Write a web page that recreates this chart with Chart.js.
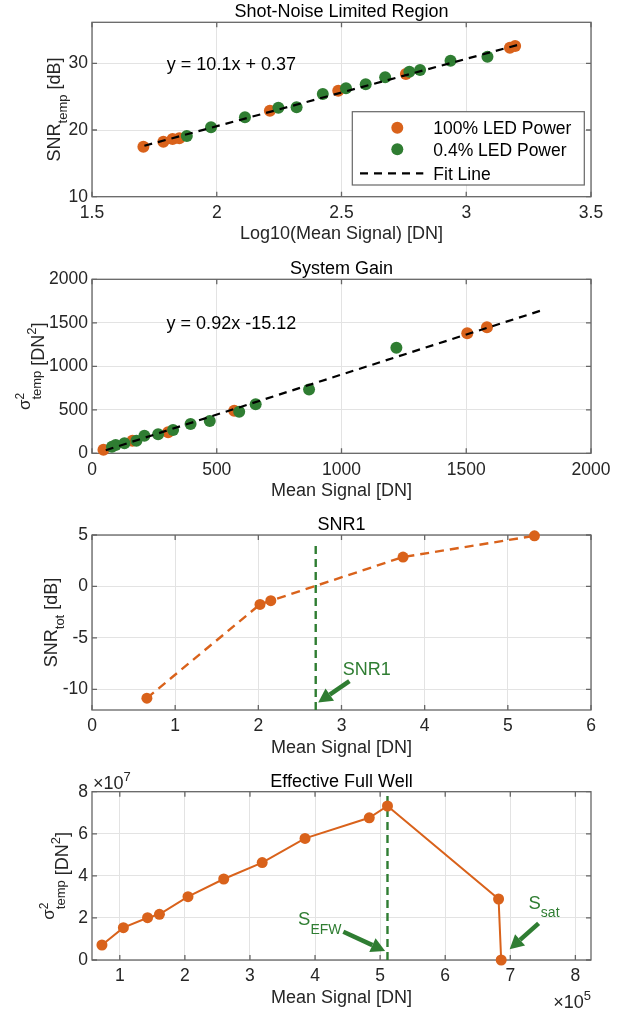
<!DOCTYPE html>
<html>
<head>
<meta charset="utf-8">
<script src="https://cdn.jsdelivr.net/npm/chart.js@4.4.0/dist/chart.umd.min.js"></script>
<style>
  body { margin: 0; background: #fff; width: 620px; height: 1012px; position: relative; overflow: hidden; }
  canvas { position: absolute; left: 0; }
</style>
</head>
<body>
<canvas id="c1" width="620" height="250" style="top:0px"></canvas>
<canvas id="c2" width="620" height="255" style="top:250px"></canvas>
<canvas id="c3" width="620" height="260" style="top:505px"></canvas>
<canvas id="c4" width="620" height="257" style="top:755px"></canvas>
<script>
// --- Shot-Noise Limited Region ---
var snrLogOrange = [1.706, 1.786, 1.823, 1.85, 2.213, 2.487, 2.758, 3.175, 3.196];
var snrOrange = [17.5, 18.25, 18.65, 18.75, 22.9, 25.9, 28.4, 32.35, 32.6];
var snrLogGreen = [1.88, 1.977, 2.113, 2.247, 2.32, 2.425, 2.518, 2.597, 2.675, 2.772, 2.815, 2.937, 3.085];
var snrGreen = [19.1, 20.4, 21.9, 23.35, 23.4, 25.4, 26.25, 26.85, 27.9, 28.75, 29.0, 30.4, 31.0];
var snrFitX = [1.71, 3.21];
var snrFitY = [17.64, 32.79];
var ticks1X = [1.5, 2, 2.5, 3, 3.5];
var ticks1Y = [10, 20, 30];

// --- System Gain ---
var gainSigOrange = [46, 162, 305, 570, 1504, 1583];
var gainVarOrange = [40, 145, 241, 490, 1379, 1448];
var gainSigGreen = [80, 95, 130, 178, 210, 265, 325, 395, 472, 590, 656, 870, 1220];
var gainVarGreen = [76, 95, 115, 145, 202, 218, 268, 337, 371, 478, 563, 732, 1214];
var gainFitX = [55, 1800];
var gainFitY = [35.5, 1641];
var ticks2X = [0, 500, 1000, 1500, 2000];
var ticks2Y = [0, 500, 1000, 1500, 2000];

// --- SNR1 ---
var snr1Sig = [0.66, 2.02, 2.15, 3.74, 5.32];
var snr1Tot = [-10.85, -1.74, -1.38, 2.86, 4.92];
var snr1LineX = [2.69, 2.69];
var snr1LineY = [-12, 4.2];
var ticks3X = [0, 1, 2, 3, 4, 5, 6];
var ticks3Y = [-10, -5, 0, 5];

// --- Effective Full Well ---
var efwSig = [72600, 105500, 142700, 160900, 204800, 259700, 318800, 384600, 483300, 511300, 682000, 686000];
var efwVar = [7.13e6, 1.537e7, 2.01e7, 2.17e7, 3.01e7, 3.85e7, 4.63e7, 5.78e7, 6.76e7, 7.32e7, 2.9e7, 0];
var efwLineX = [511300, 511300];
var efwLineY = [0, 8e7];
var ticks4X = [1e5, 2e5, 3e5, 4e5, 5e5, 6e5, 7e5, 8e5];
var ticks4Y = [0, 2e7, 4e7, 6e7, 8e7];

var FONT = '"Liberation Sans", Arial, sans-serif';
var ORANGE = '#D9621B';
var GREEN = '#2F7D32';
var TXT = '#262626';

function pts(xs, ys) {
  return xs.map(function (x, i) { return {x: x, y: ys[i]}; });
}

// text made of runs: [text, size, rise, stackOnPrevious]
function rich(ctx, segs, x, y, rot, align) {
  ctx.save();
  ctx.translate(x, y);
  if (rot) ctx.rotate(-Math.PI / 2);
  ctx.textBaseline = 'alphabetic';
  ctx.textAlign = 'left';
  var pos = 0, start = 0, lastW = 0, items = [];
  segs.forEach(function (g) {
    ctx.font = g[1] + 'px ' + FONT;
    var w = ctx.measureText(g[0]).width;
    if (g[3]) {
      items.push([g[0], g[1], g[2], start]);
      lastW = Math.max(lastW, w);
      pos = start + lastW;
    } else {
      items.push([g[0], g[1], g[2], pos]);
      start = pos; lastW = w; pos += w;
    }
  });
  var off = align == 'left' ? 0 : (align == 'right' ? -pos : -pos / 2);
  items.forEach(function (it) {
    ctx.font = it[1] + 'px ' + FONT;
    ctx.fillText(it[0], off + it[3], -it[2]);
  });
  ctx.restore();
}

function arrow(ctx, x1, y1, x2, y2) {
  var ang = Math.atan2(y2 - y1, x2 - x1), head = 14, hw = 7.5;
  var bx = x2 - head * Math.cos(ang), by = y2 - head * Math.sin(ang);
  ctx.save();
  ctx.strokeStyle = GREEN;
  ctx.fillStyle = GREEN;
  ctx.lineWidth = 4.5;
  ctx.beginPath(); ctx.moveTo(x1, y1); ctx.lineTo(bx, by); ctx.stroke();
  ctx.beginPath();
  ctx.moveTo(x2, y2);
  ctx.lineTo(bx + hw * Math.sin(ang), by - hw * Math.cos(ang));
  ctx.lineTo(bx - hw * Math.sin(ang), by + hw * Math.cos(ang));
  ctx.closePath();
  ctx.fill();
  ctx.restore();
}

var matlabFrame = {
  id: 'matlabFrame',
  beforeDatasetsDraw: function (chart) {
    var a = chart.chartArea, ctx = chart.ctx;
    var sx = chart.scales.x, sy = chart.scales.y;
    ctx.save();
    ctx.strokeStyle = '#666666';
    ctx.lineWidth = 1.3;
    ctx.strokeRect(a.left, a.top, a.right - a.left, a.bottom - a.top);
    ctx.beginPath();
    sx.ticks.forEach(function (t) {
      var p = sx.getPixelForValue(t.value);
      ctx.moveTo(p, a.bottom); ctx.lineTo(p, a.bottom - 5);
      ctx.moveTo(p, a.top); ctx.lineTo(p, a.top + 5);
    });
    sy.ticks.forEach(function (t) {
      var p = sy.getPixelForValue(t.value);
      ctx.moveTo(a.left, p); ctx.lineTo(a.left + 5, p);
      ctx.moveTo(a.right, p); ctx.lineTo(a.right - 5, p);
    });
    ctx.stroke();
    ctx.restore();
  },
  afterDraw: function (chart, args, o) {
    var a = chart.chartArea, ctx = chart.ctx;
    var cx = (a.left + a.right) / 2;
    ctx.save();
    ctx.fillStyle = '#000';
    rich(ctx, [[o.title, 18, 0]], cx, a.top - 5, false, 'center');
    ctx.fillStyle = TXT;
    rich(ctx, o.xlabel, cx, a.bottom + 42.5, false, 'center');
    rich(ctx, o.ylabel, o.ylabelX, (a.top + a.bottom) / 2, true, 'center');
    if (o.extras) o.extras(chart, ctx);
    ctx.restore();
  }
};

function axis(min, max, ticks, pad, fmt) {
  return {
    type: 'linear',
    min: min,
    max: max,
    afterBuildTicks: function (s) { s.ticks = ticks.map(function (v) { return {value: v}; }); },
    grid: {color: '#e3e3e3', lineWidth: 1, drawTicks: false},
    border: {display: false},
    ticks: {
      padding: pad, color: TXT, autoSkip: false, maxRotation: 0,
      font: {family: FONT, size: 17.5},
      callback: fmt || function (v) { return String(v); }
    }
  };
}

function makeChart(id, datasets, xs, ys, padTop, xHeight, frame) {
  xs.afterFit = function (s) { s.height = xHeight; };
  ys.afterFit = function (s) { s.width = 92; };
  return new Chart(document.getElementById(id), {
    type: 'scatter',
    data: {datasets: datasets},
    options: {
      responsive: false,
      animation: false,
      events: [],
      layout: {padding: {top: padTop, right: 29, left: 0, bottom: 0}},
      scales: {x: xs, y: ys},
      plugins: {legend: {display: false}, tooltip: {enabled: false}, matlabFrame: frame}
    },
    plugins: [matlabFrame]
  });
}

function dots(xs, ys, color, r, order) {
  return {data: pts(xs, ys), backgroundColor: color, borderWidth: 0, pointRadius: r, showLine: false, order: order, clip: false};
}
function fitLine(xs, ys) {
  return {data: pts(xs, ys), showLine: true, borderColor: '#000', borderWidth: 2.2, borderDash: [8, 6], pointRadius: 0, order: 1, clip: false};
}

// sigma^2_temp [DN^2], the sigma group sits raised as in the original
var ylabTemp = [['\u03C3', 17, 14], ['2', 12, 20], ['temp', 13, 3, true], [' [DN', 18, 0], ['2', 13, 8], [']', 18, 0]];

// chart 1
makeChart('c1', [
  dots(snrLogOrange, snrOrange, ORANGE, 6, 3),
  dots(snrLogGreen, snrGreen, GREEN, 6, 2),
  fitLine(snrFitX, snrFitY)
], axis(1.5, 3.5, ticks1X, 6), axis(10, 36.15, ticks1Y, 4), 22.3, 53.3, {
  title: 'Shot-Noise Limited Region',
  xlabel: [['Log10(Mean Signal) [DN]', 18, 0]],
  ylabel: [['SNR', 18, 0], ['temp', 13, -6.5], [' [dB]', 18, 0]],
  ylabelX: 60,
  extras: function (chart, ctx) {
    var a = chart.chartArea, sx = chart.scales.x, sy = chart.scales.y;
    ctx.fillStyle = '#000';
    rich(ctx, [['y = 10.1x + 0.37', 18, 0]], sx.getPixelForValue(1.80), sy.getPixelForValue(29.0), false, 'left');
    // legend box
    var w = 232, h = 73.3, L = a.right - 6.7 - w, T = a.bottom - 11.7 - h;
    ctx.fillStyle = '#fff';
    ctx.fillRect(L, T, w, h);
    ctx.strokeStyle = '#666666';
    ctx.lineWidth = 1.2;
    ctx.strokeRect(L, T, w, h);
    var rows = [16, 37.6, 61.6];
    ctx.fillStyle = ORANGE;
    ctx.beginPath(); ctx.arc(L + 45, T + rows[0], 6, 0, 2 * Math.PI); ctx.fill();
    ctx.fillStyle = GREEN;
    ctx.beginPath(); ctx.arc(L + 45, T + rows[1], 6, 0, 2 * Math.PI); ctx.fill();
    ctx.strokeStyle = '#000';
    ctx.lineWidth = 2.2;
    ctx.setLineDash([8, 6]);
    ctx.beginPath(); ctx.moveTo(L + 7.7, T + rows[2]); ctx.lineTo(L + 71, T + rows[2]); ctx.stroke();
    ctx.setLineDash([]);
    ctx.fillStyle = '#000';
    var labels = ['100% LED Power', '0.4% LED Power', 'Fit Line'];
    labels.forEach(function (t, i) { rich(ctx, [[t, 17.5, 0]], L + 81, T + rows[i] + 6.3, false, 'left'); });
  }
});

// chart 2
makeChart('c2', [
  dots(gainSigOrange, gainVarOrange, ORANGE, 6, 3),
  dots(gainSigGreen, gainVarGreen, GREEN, 6, 2),
  fitLine(gainFitX, gainFitY)
], axis(0, 2000, ticks2X, 6), axis(0, 2000, ticks2Y, 4), 29.3, 51.7, {
  title: 'System Gain',
  xlabel: [['Mean Signal [DN]', 18, 0]],
  ylabel: ylabTemp,
  ylabelX: 44,
  extras: function (chart, ctx) {
    var sx = chart.scales.x, sy = chart.scales.y;
    ctx.fillStyle = '#000';
    rich(ctx, [['y = 0.92x -15.12', 18, 0]], sx.getPixelForValue(299), sy.getPixelForValue(1425), false, 'left');
  }
});

// chart 3
makeChart('c3', [
  {data: pts(snr1Sig, snr1Tot), showLine: true, borderColor: ORANGE, borderWidth: 2.4, borderDash: [9, 6],
   backgroundColor: ORANGE, pointBorderWidth: 0, pointRadius: 5.5, order: 1, clip: false},
  {data: pts(snr1LineX, snr1LineY), showLine: true, borderColor: GREEN, borderWidth: 2.4, borderDash: [8, 5],
   pointRadius: 0, order: 2, clip: false}
], axis(0, 6, ticks3X, 6), axis(-12, 5, ticks3Y, 4), 30, 55, {
  title: 'SNR1',
  xlabel: [['Mean Signal [DN]', 18, 0]],
  ylabel: [['SNR', 18, 0], ['tot', 13, -6.5], [' [dB]', 18, 0]],
  ylabelX: 57,
  extras: function (chart, ctx) {
    var sx = chart.scales.x, sy = chart.scales.y;
    ctx.fillStyle = GREEN;
    rich(ctx, [['SNR1', 18, 0]], sx.getPixelForValue(3.016), sy.getPixelForValue(-8.64), false, 'left');
    arrow(ctx, sx.getPixelForValue(3.095), sy.getPixelForValue(-9.2), sx.getPixelForValue(2.72), sy.getPixelForValue(-11.27));
  }
});

// chart 4
makeChart('c4', [
  {data: pts(efwSig, efwVar), showLine: true, borderColor: ORANGE, borderWidth: 2,
   backgroundColor: ORANGE, pointBorderWidth: 0, pointRadius: 5.5, order: 1, clip: false},
  {data: pts(efwLineX, efwLineY), showLine: true, borderColor: GREEN, borderWidth: 2.4, borderDash: [8, 5],
   pointRadius: 0, order: 2, clip: false}
], axis(57300, 824000, ticks4X, 6, function (v) { return String(v / 1e5); }),
   axis(0, 8e7, ticks4Y, 4, function (v) { return String(v / 1e7); }), 36.7, 52, {
  title: 'Effective Full Well',
  xlabel: [['Mean Signal [DN]', 18, 0]],
  ylabel: ylabTemp,
  ylabelX: 68,
  extras: function (chart, ctx) {
    var a = chart.chartArea, sx = chart.scales.x, sy = chart.scales.y;
    ctx.fillStyle = TXT;
    rich(ctx, [['\u00D710', 18, 0], ['7', 13, 8]], a.left + 1, a.top - 3, false, 'left');
    rich(ctx, [['\u00D710', 18, 0], ['5', 13, 8]], a.right, a.bottom + 48, false, 'right');
    ctx.fillStyle = GREEN;
    rich(ctx, [['S', 18.5, 0], ['EFW', 14, -8.5]], sx.getPixelForValue(374000), sy.getPixelForValue(1.66e7), false, 'left');
    rich(ctx, [['S', 18.5, 0], ['sat', 14, -7.5]], sx.getPixelForValue(728000), sy.getPixelForValue(2.41e7), false, 'left');
    arrow(ctx, sx.getPixelForValue(443500), sy.getPixelForValue(1.345e7), sx.getPixelForValue(507700), sy.getPixelForValue(0.43e7));
    arrow(ctx, sx.getPixelForValue(743500), sy.getPixelForValue(1.744e7), sx.getPixelForValue(699000), sy.getPixelForValue(0.51e7));
  }
});
</script>
</body>
</html>
